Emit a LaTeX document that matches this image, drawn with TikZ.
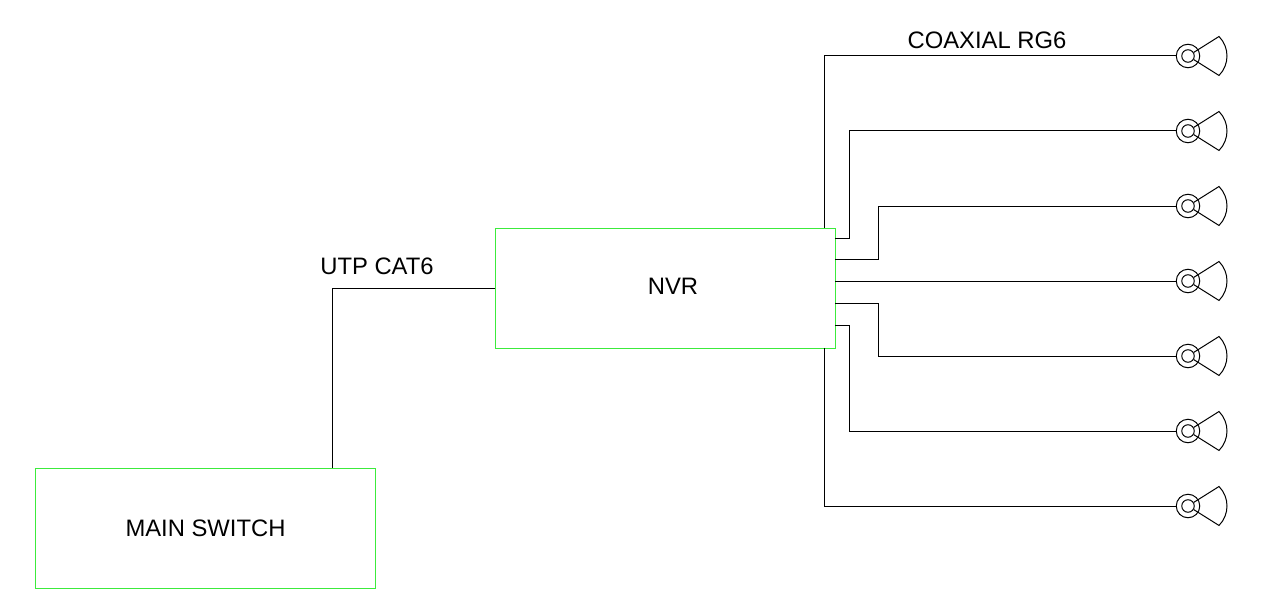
\documentclass[tikz,border=0pt]{standalone}
\usepackage{fontspec}
\setmainfont{Liberation Sans}
\definecolor{boxgreen}{RGB}{60,235,60}
\tikzset{box/.style={draw=boxgreen,rectangle,minimum width=340pt,minimum height=120pt,inner sep=0pt}}
\tikzset{lens/.style={draw,circle,minimum size=23.5pt,inner sep=0pt}}
\tikzset{eye/.style={draw,circle,minimum size=12.5pt,inner sep=0pt}}
\tikzset{cable/.style={inner sep=0pt}}
\begin{document}
\begin{tikzpicture}[x=1pt,y=1pt,line width=1pt,font=\fontsize{23.8}{28}\selectfont]
\useasboundingbox (0,0) rectangle (1274,-615);
\node[box] (nvr) at (665,-288) {\hspace*{16pt}\raisebox{3pt}{NVR}};
\node[box] (switch) at (205.5,-528) {MAIN SWITCH};
\node[cable] (utp) at (377,-266) {UTP CAT6};
\node[cable] (coax) at (987,-40) {COAXIAL RG6};
% cameras
\foreach \i/\y in {1/56,2/131,3/206,4/281,5/356,6/431,7/506}{
  \node[lens] (cam\i) at (1188,-\y) {};
  \node[eye] (eye\i) at (cam\i) {};
  \coordinate (tipa\i) at (1219,-\y+19.5);
  \draw (eye\i) -- (tipa\i) arc[start angle=44.6,end angle=-44.6,radius=27.75] -- (eye\i);
}
% ports on the nvr
\coordinate (p1) at (824,-228);
\coordinate (p2) at (835,-238);
\coordinate (p3) at (835,-259.5);
\coordinate (p4) at (835,-281);
\coordinate (p5) at (835,-303);
\coordinate (p6) at (835,-325);
\coordinate (p7) at (824,-348);
\coordinate (drop) at (332,-468);
\draw (p1) |- (cam1);
\draw (p2) -- ++(14,0) |- (cam2);
\draw (p3) -- ++(43,0) |- (cam3);
\draw (p4) -- (cam4);
\draw (p5) -- ++(43,0) |- (cam5);
\draw (p6) -- ++(14,0) |- (cam6);
\draw (p7) |- (cam7);
\draw (nvr.west) -| (drop);
\end{tikzpicture}
\end{document}
